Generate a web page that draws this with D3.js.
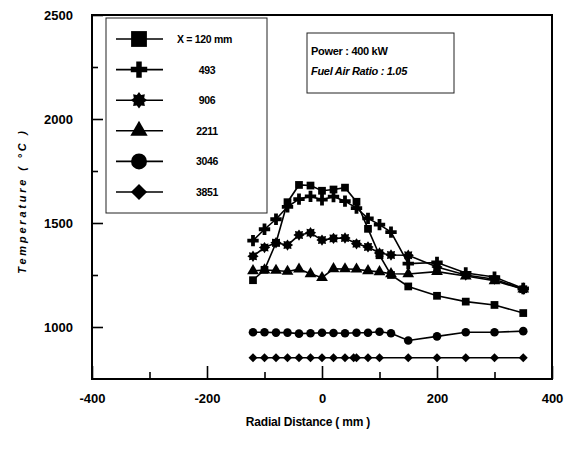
<!DOCTYPE html>
<html>
<head>
<meta charset="utf-8">
<script src="https://cdn.jsdelivr.net/npm/d3@7"></script>
<style>
  body { margin: 0; background: #fff; }
  svg { display: block; font-family: "Liberation Sans", Arial, sans-serif; }
  .tick text { font-size: 13px; font-weight: bold; fill: #000; }
  .tick line { stroke: #000; stroke-width: 1.6; }
</style>
</head>
<body>
<svg id="chart" width="565" height="463"></svg>
<script>
// radial positions (mm)
const radial = [-120, -100, -80, -60, -40, -20, 0, 20, 40, 60, 80, 100, 120, 150, 200, 250, 300, 350];
const radial3851 = [-120, -100, -80, -60, -40, -20, 0, 20, 40, 55, 60, 80, 100, 150, 200, 250, 300, 350];

// temperatures (°C) at each axial station X
const t120 = [1225, 1275, 1405, 1600, 1683, 1680, 1655, 1661, 1670, 1602, 1472, 1345, 1250, 1195, 1150, 1122, 1106, 1067];
const t493 = [1415, 1470, 1518, 1578, 1615, 1628, 1612, 1627, 1605, 1572, 1522, 1492, 1456, 1305, 1310, 1260, 1240, 1185];
const t906 = [1340, 1382, 1405, 1394, 1442, 1453, 1418, 1426, 1428, 1400, 1385, 1356, 1346, 1345, 1288, 1250, 1230, 1182];
const t2211 = [1270, 1274, 1272, 1267, 1278, 1256, 1237, 1280, 1279, 1278, 1270, 1265, 1256, 1255, 1266, 1245, 1222, 1182];
const t3046 = [975, 975, 973, 973, 968, 970, 972, 971, 970, 972, 972, 977, 970, 935, 955, 975, 975, 980];
const t3851 = [852, 852, 852, 852, 852, 852, 852, 852, 852, 852, 852, 852, 852, 852, 852, 852, 852, 852];

const seriesLabels = ['X = 120 mm', '493', '906', '2211', '3046', '3851'];
const xTicks = [-400, -200, 0, 200, 400];
const xMinor = [-300, -100, 100, 300];
const yTicks = [1000, 1500, 2000, 2500];
const yMinor = [1250, 1750, 2250];

// 8 pointed star marker
const symStar = {
    draw(ctx, size) {
        const r = Math.sqrt(size / Math.PI) * 1.2, ri = r * 0.68;
        for (let i = 0; i < 16; i++) {
            const a = i * Math.PI / 8 - Math.PI / 2;
            const rr = i % 2 ? ri : r;
            if (i === 0) ctx.moveTo(rr * Math.cos(a), rr * Math.sin(a));
            else ctx.lineTo(rr * Math.cos(a), rr * Math.sin(a));
        }
        ctx.closePath();
    }
};

// square turned 45 degrees
const symDiamond = {
    draw(ctx, size) {
        const r = Math.sqrt(size / 2);
        ctx.moveTo(0, -r);
        ctx.lineTo(r, 0);
        ctx.lineTo(0, r);
        ctx.lineTo(-r, 0);
        ctx.closePath();
    }
};

const series = [
    { xs: radial, ys: t120, sym: d3.symbolSquare, size: 60, lsize: 250 },
    { xs: radial, ys: t493, sym: d3.symbolCross, size: 72, lsize: 150 },
    { xs: radial, ys: t906, sym: symStar, size: 70, lsize: 150 },
    { xs: radial, ys: t2211, sym: d3.symbolTriangle, size: 60, lsize: 130 },
    { xs: radial, ys: t3046, sym: d3.symbolCircle, size: 58, lsize: 200 },
    { xs: radial3851, ys: t3851, sym: symDiamond, size: 40, lsize: 130 }
];

const svg = d3.select('#chart');
const margin = { top: 15, right: 13, bottom: 84, left: 92 };
const W = 565 - margin.left - margin.right, H = 463 - margin.top - margin.bottom;

const x = d3.scaleLinear().domain([-400, 400]).range([margin.left, margin.left + W]);
const y = d3.scaleLinear().domain([750, 2500]).range([margin.top + H, margin.top]);

// axes with inward ticks
const gx = svg.append('g').attr('transform', `translate(0,${margin.top + H})`)
    .call(d3.axisBottom(x).tickValues(xTicks).tickSize(-13).tickPadding(15)
        .tickFormat(d => d < 0 ? '-' + Math.abs(d) : String(d)));
svg.append('g').attr('transform', `translate(0,${margin.top + H})`)
    .call(d3.axisBottom(x).tickValues(xMinor).tickSize(-7).tickFormat(''));
svg.append('g').attr('transform', `translate(${margin.left},0)`)
    .call(d3.axisLeft(y).tickValues(yTicks).tickSize(-11).tickPadding(19).tickFormat(d => String(d)));
svg.append('g').attr('transform', `translate(${margin.left},0)`)
    .call(d3.axisLeft(y).tickValues(yMinor).tickSize(-6).tickFormat(''));
svg.selectAll('.domain').remove();

svg.append('rect')
    .attr('x', margin.left).attr('y', margin.top)
    .attr('width', W).attr('height', H)
    .attr('fill', 'none').attr('stroke', '#000').attr('stroke-width', 2);

// data lines and markers
const line = d3.line().x(d => x(d[0])).y(d => y(d[1]));
series.forEach(s => {
    const pts = s.xs.map((v, i) => [v, s.ys[i]]);
    svg.append('path').datum(pts).attr('d', line)
        .attr('fill', 'none').attr('stroke', '#000').attr('stroke-width', 1.6);
    svg.append('g').selectAll('path').data(pts).join('path')
        .attr('transform', d => `translate(${x(d[0])},${y(d[1])})`)
        .attr('d', d3.symbol().type(s.sym).size(s.size))
        .attr('fill', '#000');
});

// legend
const leg = svg.append('g');
leg.append('rect').attr('x', 106).attr('y', 18).attr('width', 161).attr('height', 195)
    .attr('fill', '#fff').attr('stroke', '#222').attr('stroke-width', 1);
series.forEach((s, i) => {
    const cy = 39 + i * 30.6;
    leg.append('line').attr('x1', 116).attr('x2', 163).attr('y1', cy).attr('y2', cy)
        .attr('stroke', '#000').attr('stroke-width', 1.6);
    leg.append('path').attr('transform', `translate(139,${cy})`)
        .attr('d', d3.symbol().type(s.sym).size(s.lsize)).attr('fill', '#000');
    leg.append('text')
        .attr('x', i === 0 ? 177 : 207).attr('y', cy + 4)
        .attr('text-anchor', i === 0 ? 'start' : 'middle')
        .attr('font-size', 10.5).attr('font-weight', 'bold')
        .attr('letter-spacing', -0.3)
        .text(seriesLabels[i]);
});

// conditions box
svg.append('rect').attr('x', 307).attr('y', 33).attr('width', 147).attr('height', 60)
    .attr('fill', 'none').attr('stroke', '#222').attr('stroke-width', 1);
svg.append('text').attr('x', 311).attr('y', 55)
    .attr('font-size', 11).attr('font-weight', 'bold').attr('letter-spacing', -0.3)
    .text('Power : 400 kW');
svg.append('text').attr('x', 311).attr('y', 75)
    .attr('font-size', 11).attr('font-weight', 'bold').attr('font-style', 'italic').attr('letter-spacing', -0.3)
    .text('Fuel Air Ratio : 1.05');

// axis titles
svg.append('text').attr('x', 308).attr('y', 426).attr('text-anchor', 'middle')
    .attr('font-size', 12).attr('font-weight', 'bold').attr('letter-spacing', -0.2)
    .text('Radial Distance ( mm )');
svg.append('text')
    .attr('transform', 'translate(26,201) rotate(-90)')
    .attr('text-anchor', 'middle').attr('fill', '#000')
    .attr('font-size', 11).attr('font-weight', 'bold').attr('font-style', 'italic')
    .attr('letter-spacing', 2.8)
    .text('Temperature   ( °C )');
</script>
</body>
</html>
